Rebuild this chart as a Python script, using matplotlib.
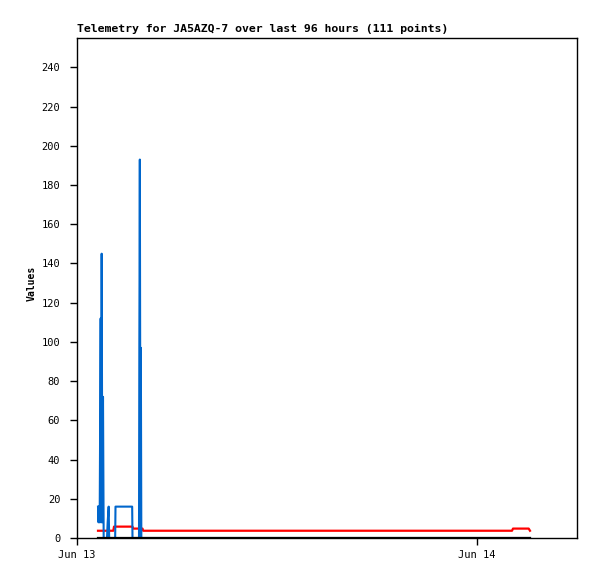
import matplotlib
matplotlib.use("Agg")
import matplotlib.pyplot as plt

# hours since Jun 13 00:00
blue_t = [1.26, 1.29, 1.32, 1.36, 1.42, 1.45, 1.48, 1.52, 1.56, 1.60, 1.80, 1.84,
          1.90, 1.93, 2.29, 2.31, 3.31, 3.33, 3.72, 3.74, 3.77, 3.79, 3.81, 3.83, 3.86, 27.18]
blue_v = [16, 8, 16, 8, 112, 8, 145, 8, 72, 0, 0, 8,
          16, 0, 0, 16, 16, 0, 0, 97, 193, 97, 0, 97, 0, 0]

red_t = [1.26, 2.18, 2.22, 3.33, 3.37, 3.93, 3.97, 26.10, 26.16, 27.10, 27.18]
red_v = [3.7, 3.7, 5.8, 5.8, 4.8, 4.8, 3.7, 3.7, 4.8, 4.8, 3.7]

black_t = [1.26, 27.18]
black_v = [0, 0]

yticks = list(range(0, 241, 20))
xticks = [0, 24]
xlabels = ["Jun 13", "Jun 14"]

plt.rcParams['font.family'] = ['DejaVu Sans Mono']

fig = plt.figure(figsize=(5.97, 5.79), dpi=100)
ax = fig.add_axes([77 / 597, 1 - 538 / 579, 500 / 597, 500 / 579])

ax.plot(red_t, red_v, color='#ff0000', linewidth=1.6, zorder=2)
ax.plot(blue_t, blue_v, color='#0066cc', linewidth=1.5, zorder=3)
ax.plot(black_t, black_v, color='black', linewidth=1.6, zorder=4)

ax.set_xlim(0, 30)
ax.set_ylim(0, 255)
ax.set_yticks(yticks)
ax.set_xticks(xticks)
ax.set_xticklabels(xlabels)
ax.tick_params(axis='y', length=5, width=1, pad=7, labelsize=7.5)
ax.tick_params(axis='x', length=5, width=1, pad=3.5, labelsize=7.5)
for s in ax.spines.values():
    s.set_linewidth(1)

ax.set_ylabel('Values', fontsize=7, fontweight='bold')
ax.yaxis.set_label_coords(-0.08, 0.51)
ax.set_title('Telemetry for JA5AZQ-7 over last 96 hours (111 points)',
             loc='left', fontsize=8.25, fontweight='bold', pad=4)

plt.savefig('out.png', dpi=100)
